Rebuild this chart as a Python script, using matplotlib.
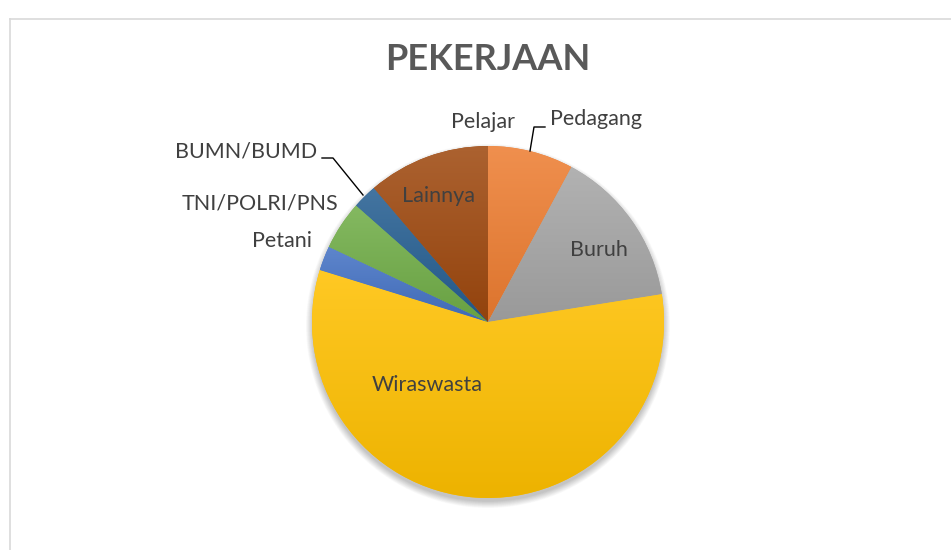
import matplotlib.pyplot as plt
import matplotlib.colors as mcolors
import numpy as np
from matplotlib.patches import Circle

# data (jumlah responden per pekerjaan)
categories = ['Pelajar', 'Pedagang', 'Buruh', 'Wiraswasta', 'Petani',
              'TNI/POLRI/PNS', 'BUMN/BUMD', 'Lainnya']
values = [0, 7, 13, 51, 2, 4, 2, 10]
colors = ['#5B9BD5', '#ED7D31', '#A5A5A5', '#FFC000', '#4472C4',
          '#70AD47', '#255E91', '#9E480E']

W, H = 951, 550
cx, cy, R = 488, H - 322, 176

plt.rcParams['font.family'] = ['Lato', 'DejaVu Sans']

fig = plt.figure(figsize=(W / 100, H / 100), dpi=100)
ax = fig.add_axes([0, 0, 1, 1])

# soft shadow under the pie
for k in range(12):
    ax.add_patch(Circle((cx, cy - 4), R + 6 - k * 0.6, color='black',
                        alpha=0.018, lw=0, zorder=0))

wedges, _ = ax.pie(values, colors=colors, startangle=90, counterclock=False,
                   center=(cx, cy), radius=R,
                   wedgeprops=dict(linewidth=0, zorder=1))

def shade(c, f):
    c = np.array(mcolors.to_rgb(c))
    if f > 0:
        return c + (1 - c) * f
    return c * (1 + f)

# vertical gradient fill for each wedge (lighter at top)
for w, c in zip(wedges, colors):
    if w.theta2 - w.theta1 < 1e-6:
        continue
    bb = w.get_path().get_extents()
    grad = np.linspace(0, 1, 64)[:, None, None]
    img = shade(c, -0.07)[None, None, :] * (1 - grad) + shade(c, 0.14)[None, None, :] * grad
    im = ax.imshow(img, extent=(bb.x0, bb.x1, bb.y0, bb.y1), origin='lower',
                   aspect='auto', interpolation='bilinear', zorder=2)
    im.set_clip_path(w)

ax.set_xlim(0, W)
ax.set_ylim(0, H)
ax.set_aspect('auto')
ax.axis('off')

txt = '#404040'
fs = 15.5
# labels inside
ax.text(438, H - 196, 'Lainnya', ha='center', va='center', fontsize=fs, color=txt, zorder=5)
ax.text(599, H - 250, 'Buruh', ha='center', va='center', fontsize=fs, color=txt, zorder=5)
ax.text(427, H - 385, 'Wiraswasta', ha='center', va='center', fontsize=fs, color=txt, zorder=5)
# labels outside
ax.text(483, H - 122, 'Pelajar', ha='center', va='center', fontsize=fs, color=txt)
ax.text(596, H - 119, 'Pedagang', ha='center', va='center', fontsize=fs, color=txt)
ax.text(246, H - 151, 'BUMN/BUMD', ha='center', va='center', fontsize=fs, color=txt)
ax.text(260, H - 203, 'TNI/POLRI/PNS', ha='center', va='center', fontsize=fs, color=txt)
ax.text(282, H - 241, 'Petani', ha='center', va='center', fontsize=fs, color=txt)

# leader lines
ax.plot([530, 534, 545], [H - 151, H - 127, H - 127], color='black', lw=1, zorder=5)
ax.plot([363, 333, 322], [H - 195, H - 158, H - 158], color='black', lw=1, zorder=5)

# title
ax.text(488, H - 59, 'PEKERJAAN', ha='center', va='center', fontsize=26,
        fontweight='bold', color='#595959')

# chart frame (top and left edges visible)
ax.plot([10, W], [H - 19, H - 19], color='#D9D9D9', lw=1.2, clip_on=False)
ax.plot([10, 10], [H - 19, 0], color='#D9D9D9', lw=1.2, clip_on=False)

fig.savefig('out.png', dpi=100)
